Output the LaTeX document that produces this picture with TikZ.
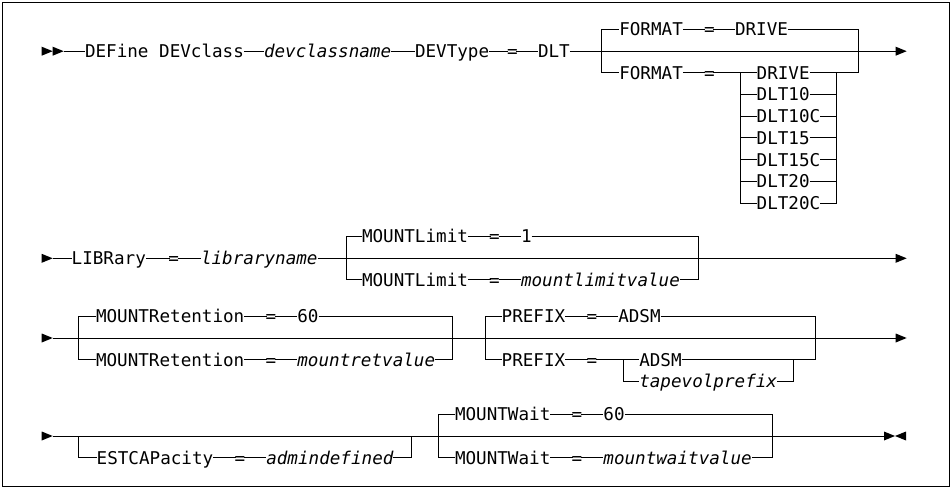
\documentclass[tikz,border=0pt]{standalone}
\usepackage{fontspec}
\setmainfont{DejaVu Sans Mono}
\usetikzlibrary{calc}

\begin{document}
\begin{tikzpicture}[x=1pt,y=-1pt,line width=1pt,
	kw/.style={inner sep=0pt,outer sep=0pt,anchor=west,text height=12.8pt,text depth=0pt,font=\fontsize{17.6}{20}\selectfont},
	var/.style={kw,font=\fontsize{17.6}{20}\selectfont\itshape},
	eq/.style={kw,inner xsep=-1.3pt}]
	\useasboundingbox (0,0) rectangle (951,489);
	\draw[line width=.8pt] (2.5,2.5) rectangle (949,486.5);
	\foreach \x/\y/\d in {41.7/51.2/11,52.7/51.2/11,41.7/258.3/11,41.7/338/11,41.7/436/11,895.7/51.2/11,895.7/258.3/11,895.7/338/11,884/436/11,906/436/-11}
		\fill (\x,\y) -- ++(0,-4.5) -- ++(\d,4.5) -- ++(-\d,4.5) -- cycle;
	% row 1
	\coordinate (s1) at (63.7,51.2);
	\coordinate (e1) at (895.7,51.2);
	\node[kw] (def) at (85,51.2) {DEFine DEVclass};
	\node[var] (dcn) at (264,51.2) {devclassname};
	\node[kw] (dt) at (415,51.2) {DEVType};
	\node[eq] (eq1) at (508.3,51.2) {=};
	\node[kw] (dlt) at (538,51.2) {DLT};
	\coordinate (b1l) at (601.7,29.5);
	\coordinate (b1lb) at (601.7,72.9);
	\coordinate (b1r) at (858.3,29.5);
	\coordinate (b1rb) at (858.3,72.9);
	\node[kw] (fa) at (619.3,29.5) {FORMAT};
	\node[eq] (eqa) at (705.3,29.5) {=};
	\node[kw] (dra) at (735,29.5) {DRIVE};
	\node[kw] (fb) at (619.3,72.9) {FORMAT};
	\node[eq] (eqb) at (705.3,72.9) {=};
	\coordinate (k1t) at (740,72.9);
	\coordinate (k1b) at (740,203.1);
	\coordinate (m1t) at (836.7,72.9);
	\coordinate (m1b) at (836.7,203.1);
	\foreach \t [count=\i from 0] in {DRIVE,DLT10,DLT10C,DLT15,DLT15C,DLT20,DLT20C} {
		\node[kw] (d\i) at (756.7,72.9+21.7*\i) {\t};
		\draw (d\i.west -| k1t) -- (d\i) (d\i) -- (d\i.east -| m1t);
	}
	\draw (s1) -- (def) (def) -- (dcn) (dcn) -- (dt) (dt) -- (eq1) (eq1) -- (dlt) (dlt) -- (e1);
	\draw (b1lb) -- (b1l) -- (fa) (fa) -- (eqa) (eqa) -- (dra) (dra) -- (b1r) -- (b1rb);
	\draw (b1lb) -- (fb) (fb) -- (eqb) (eqb) -- (k1t) -- (k1b) (m1b) -- (m1t) -- (b1rb);
	% row 2
	\coordinate (s2) at (52.7,258.3);
	\coordinate (e2) at (895.7,258.3);
	\node[kw] (lib) at (71.7,258.3) {LIBRary};
	\node[eq] (eq2) at (169.7,258.3) {=};
	\node[var] (lnm) at (201,258.3) {libraryname};
	\coordinate (b2l) at (346,236.6);
	\coordinate (b2lb) at (346,280);
	\coordinate (b2r) at (698.3,236.6);
	\coordinate (b2rb) at (698.3,280);
	\node[kw] (mla) at (362,236.6) {MOUNTLimit};
	\node[eq] (eqc) at (490.5,236.6) {=};
	\node[kw] (one) at (521,236.6) {1};
	\node[kw] (mlb) at (362,280) {MOUNTLimit};
	\node[eq] (eqd) at (490.5,280) {=};
	\node[var] (mlv) at (521,280) {mountlimitvalue};
	\draw (s2) -- (lib) (lib) -- (eq2) (eq2) -- (lnm) (lnm) -- (e2);
	\draw (b2lb) -- (b2l) -- (mla) (mla) -- (eqc) (eqc) -- (one) (one) -- (b2r) -- (b2rb);
	\draw (b2lb) -- (mlb) (mlb) -- (eqd) (eqd) -- (mlv) (mlv) -- (b2rb);
	% row 3
	\coordinate (s3) at (52.7,338);
	\coordinate (e3) at (895.7,338);
	\coordinate (b3l) at (78.3,316.3);
	\coordinate (b3lb) at (78.3,359.7);
	\coordinate (b3r) at (452.7,316.3);
	\coordinate (b3rb) at (452.7,359.7);
	\node[kw] (mra) at (96,316.3) {MOUNTRetention};
	\node[eq] (eqe) at (266.9,316.3) {=};
	\node[kw] (sixa) at (297.4,316.3) {60};
	\node[kw] (mrb) at (96,359.7) {MOUNTRetention};
	\node[eq] (eqf) at (266.9,359.7) {=};
	\node[var] (mrv) at (297.4,359.7) {mountretvalue};
	\coordinate (b4l) at (485,316.3);
	\coordinate (b4lb) at (485,359.7);
	\coordinate (b4r) at (815,316.3);
	\coordinate (b4rb) at (815,359.7);
	\node[kw] (pfa) at (501.7,316.3) {PREFIX};
	\node[eq] (eqg) at (587.8,316.3) {=};
	\node[kw] (ada) at (618.3,316.3) {ADSM};
	\node[kw] (pfb) at (501.7,359.7) {PREFIX};
	\node[eq] (eqh) at (587.8,359.7) {=};
	\node[kw] (adb) at (639.3,359.7) {ADSM};
	\node[var] (tvp) at (639.3,381.4) {tapevolprefix};
	\coordinate (k2t) at (623.3,359.7);
	\coordinate (k2b) at (623.3,381.4);
	\coordinate (m2t) at (793.3,359.7);
	\coordinate (m2b) at (793.3,381.4);
	\draw (s3) -- (e3);
	\draw (b3lb) -- (b3l) -- (mra) (mra) -- (eqe) (eqe) -- (sixa) (sixa) -- (b3r) -- (b3rb);
	\draw (b3lb) -- (mrb) (mrb) -- (eqf) (eqf) -- (mrv) (mrv) -- (b3rb);
	\draw (b4lb) -- (b4l) -- (pfa) (pfa) -- (eqg) (eqg) -- (ada) (ada) -- (b4r) -- (b4rb);
	\draw (b4lb) -- (pfb) (pfb) -- (eqh) (eqh) -- (k2t) -- (adb) (adb) -- (m2t) -- (b4rb);
	\draw (k2t) -- (k2b) -- (tvp) (tvp) -- (m2b) -- (m2t);
	% row 4
	\coordinate (s4) at (52.7,436);
	\coordinate (e4) at (884,436);
	\coordinate (b5l) at (78.3,436);
	\coordinate (b5lb) at (78.3,457.7);
	\coordinate (b5r) at (411.7,436);
	\coordinate (b5rb) at (411.7,457.7);
	\node[kw] (est) at (96.7,457.7) {ESTCAPacity};
	\node[eq] (eqi) at (235.8,457.7) {=};
	\node[var] (adm) at (266.3,457.7) {admindefined};
	\coordinate (b6l) at (438.3,414.3);
	\coordinate (b6lb) at (438.3,457.7);
	\coordinate (b6r) at (772.7,414.3);
	\coordinate (b6rb) at (772.7,457.7);
	\node[kw] (mwa) at (455,414.3) {MOUNTWait};
	\node[eq] (eqj) at (572.9,414.3) {=};
	\node[kw] (sixb) at (603.4,414.3) {60};
	\node[kw] (mwb) at (455,457.7) {MOUNTWait};
	\node[eq] (eqk) at (572.9,457.7) {=};
	\node[var] (mwv) at (603.4,457.7) {mountwaitvalue};
	\draw (s4) -- (e4);
	\draw (b5l) -- (b5lb) -- (est) (est) -- (eqi) (eqi) -- (adm) (adm) -- (b5rb) -- (b5r);
	\draw (b6lb) -- (b6l) -- (mwa) (mwa) -- (eqj) (eqj) -- (sixb) (sixb) -- (b6r) -- (b6rb);
	\draw (b6lb) -- (mwb) (mwb) -- (eqk) (eqk) -- (mwv) (mwv) -- (b6rb);
\end{tikzpicture}
\end{document}
